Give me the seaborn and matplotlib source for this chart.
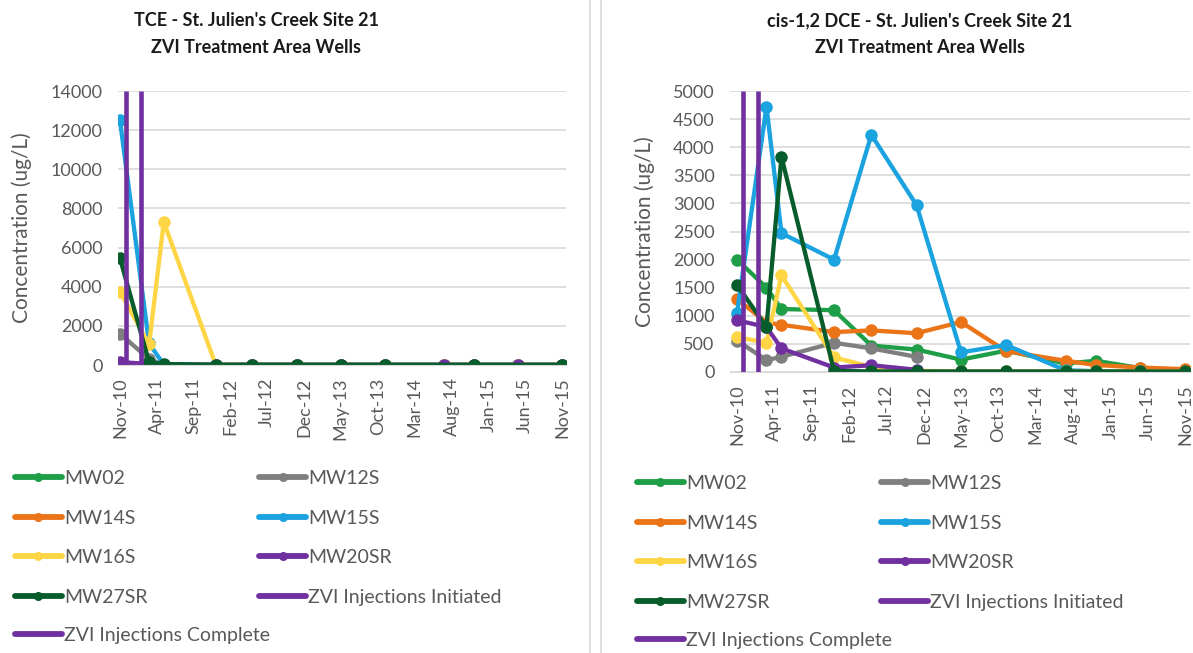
import numpy as np
import pandas as pd
import matplotlib
matplotlib.use("Agg")
import matplotlib.pyplot as plt
from matplotlib.lines import Line2D
import seaborn as sns

# ---- data -------------------------------------------------------------
sample_dates = ["2010-11-01", "2011-03-01", "2011-05-01", "2011-12-01",
                "2012-05-01", "2012-11-01", "2013-05-01", "2013-11-01",
                "2014-07-01", "2014-11-01", "2015-05-01", "2015-11-01"]

wells = ["MW02", "MW12S", "MW14S", "MW15S", "MW16S", "MW20SR", "MW27SR"]
nan = np.nan

# TCE (ug/L)
tce_mw02 = [20, 10, 5, 5, 5, 5, 5, 5, 5, 5, 5, 5]
tce_mw12s = [1600, 300, 10, 5, 5, 5, nan, nan, nan, nan, nan, nan]
tce_mw14s = [50, 20, 5, 5, 5, 5, 5, 5, 5, 5, 5, 5]
tce_mw15s = [12500, 1100, 20, 10, 5, 5, 5, 5, 5, 5, 5, 5]
tce_mw16s = [3750, 1050, 7300, 20, 5, 5, 5, 5, 5, 5, 5, 5]
tce_mw20sr = [150, 50, 10, 5, 5, 5, 5, 5, 5, 5, 5, 5]
tce_mw27sr = [5450, 150, 50, 10, 10, 10, 10, 10, nan, 10, nan, 10]

# cis-1,2 DCE (ug/L)
dce_mw02 = [2000, 1500, 1120, 1100, 470, 400, 220, 380, 150, 200, 70, 20]
dce_mw12s = [560, 210, 270, 520, 420, 270, nan, nan, nan, nan, nan, nan]
dce_mw14s = [1300, 880, 840, 710, 740, 690, 890, 370, 200, 125, 80, 50]
dce_mw15s = [1050, 4720, 2470, 2000, 4220, 2970, 350, 480, 30, 15, 10, 5]
dce_mw16s = [620, 520, 1720, 260, 90, 20, 10, 10, 10, 10, 10, 10]
dce_mw20sr = [920, 800, 420, 80, 120, 40, nan, nan, nan, nan, nan, nan]
dce_mw27sr = [1550, 800, 3830, 20, 10, 10, 10, 10, 10, 10, 10, 10]

zvi_initiated = "2010-11-24"
zvi_complete = "2011-01-25"

tick_labels = ["Nov-10", "Apr-11", "Sep-11", "Feb-12", "Jul-12", "Dec-12",
               "May-13", "Oct-13", "Mar-14", "Aug-14", "Jan-15", "Jun-15",
               "Nov-15"]

tce_series = [tce_mw02, tce_mw12s, tce_mw14s, tce_mw15s, tce_mw16s,
              tce_mw20sr, tce_mw27sr]
dce_series = [dce_mw02, dce_mw12s, dce_mw14s, dce_mw15s, dce_mw16s,
              dce_mw20sr, dce_mw27sr]

well_colors = {"MW02": "#1f9e48", "MW12S": "#7f7f7f", "MW14S": "#ec7418",
               "MW15S": "#1aa3de", "MW16S": "#fdd545", "MW20SR": "#7030a0",
               "MW27SR": "#075c2c"}
zvi_color = "#7030a0"
text_grey = "#595959"
grid_grey = "#d9d9d9"

# ---- style -------------------------------------------------------------
sns.set_style("white")
plt.rcParams["font.family"] = ["Lato", "DejaVu Sans"]

W, H = 1193, 653
fig = plt.figure(figsize=(W / 100, H / 100), dpi=100)


def long_frame(series):
    dates = pd.to_datetime(sample_dates)
    rows = []
    for name, vals in zip(wells, series):
        rows.append(pd.DataFrame({"date": dates, "value": vals, "well": name}))
    return pd.concat(rows, ignore_index=True).dropna()


def month_offset(m):
    return pd.Timestamp("2010-11-01") + pd.Timedelta(days=30.44 * m)


def draw_panel(rect, series, ymax, ystep, xlim_m, title, title_x, ylabel_x):
    ax = fig.add_axes(rect)
    df = long_frame(series)
    sns.lineplot(data=df, x="date", y="value", hue="well", hue_order=wells,
                 palette=well_colors, marker="o", markersize=9,
                 markeredgewidth=0, linewidth=3.1, legend=False, ax=ax,
                 sort=True, errorbar=None)
    for d in (zvi_initiated, zvi_complete):
        ts = pd.Timestamp(d)
        ax.plot([ts, ts], [0, ymax], color=zvi_color, lw=3.3,
                solid_capstyle="butt", zorder=5)
    ax.set_ylim(0, ymax)
    ax.set_xlim(month_offset(xlim_m[0]), month_offset(xlim_m[1]))
    ax.set_yticks(np.arange(0, ymax + 1, ystep))
    tick_pos = pd.to_datetime(tick_labels, format="%b-%y")
    ax.set_xticks(tick_pos)
    ax.set_xticklabels(tick_labels, rotation=90)
    ax.tick_params(axis="both", length=0, colors=text_grey, labelsize=13)
    ax.tick_params(axis="x", pad=9)
    ax.tick_params(axis="y", pad=11)
    ax.grid(axis="y", color=grid_grey, lw=1.2)
    ax.set_axisbelow(True)
    for s in ("left", "right", "top"):
        ax.spines[s].set_visible(False)
    ax.spines["bottom"].set_color(grid_grey)
    ax.set_xlabel("")
    ax.set_ylabel("")
    cy = rect[1] + rect[3] / 2
    fig.text(ylabel_x / W, cy, "Concentration (ug/L)", rotation=90,
             ha="center", va="center", color=text_grey, fontsize=15)
    fig.text(title_x / W, 1 - 34 / H, title, ha="center", va="center",
             fontsize=13, fontweight="bold", color="#1a1a1a",
             linespacing=1.7)
    return ax


ax1 = draw_panel([118 / W, 1 - 365 / H, 448 / W, 274 / H], tce_series,
                 14000, 2000, (-0.27, 60.5),
                 "TCE - St. Julien's Creek Site 21\nZVI Treatment Area Wells",
                 256, 22)
ax2 = draw_panel([730 / W, 1 - 372 / H, 460 / W, 281 / H], dce_series,
                 5000, 500, (-0.94, 60.6),
                 "cis-1,2 DCE - St. Julien's Creek Site 21\nZVI Treatment Area Wells",
                 920, 645)

# panel borders
for xb in (590, 601):
    fig.add_artist(Line2D([xb / W, xb / W], [0, 1], color=grid_grey, lw=1.2))


# ---- legends -------------------------------------------------------------
def well_handle(name):
    return Line2D([], [], color=well_colors[name], lw=4.2, marker="o",
                  markersize=6.5, markeredgewidth=0)


def zvi_handle():
    return Line2D([], [], color=zvi_color, lw=4.2)


def add_legend(x0, y0):
    order = ["MW02", "MW14S", "MW16S", "MW27SR", "MW12S", "MW15S", "MW20SR"]
    handles = [well_handle(n) for n in order] + [zvi_handle()]
    labels = order + ["ZVI Injections Initiated"]
    common = dict(frameon=False, fontsize=14, labelcolor=text_grey,
                  handlelength=2.4, handletextpad=0.12, borderpad=0,
                  borderaxespad=0, labelspacing=1.16)
    fig.legend(handles, labels, ncol=2, loc="upper left",
               bbox_to_anchor=(x0 / W, 1 - y0 / H),
               columnspacing=5.75, **common)
    fig.legend([zvi_handle()], ["ZVI Injections Complete"], loc="upper left",
               bbox_to_anchor=(x0 / W, 1 - (y0 + 157) / H), **common)


add_legend(15, 470)
add_legend(637, 475)

fig.savefig("out.png", dpi=100, facecolor="white")
